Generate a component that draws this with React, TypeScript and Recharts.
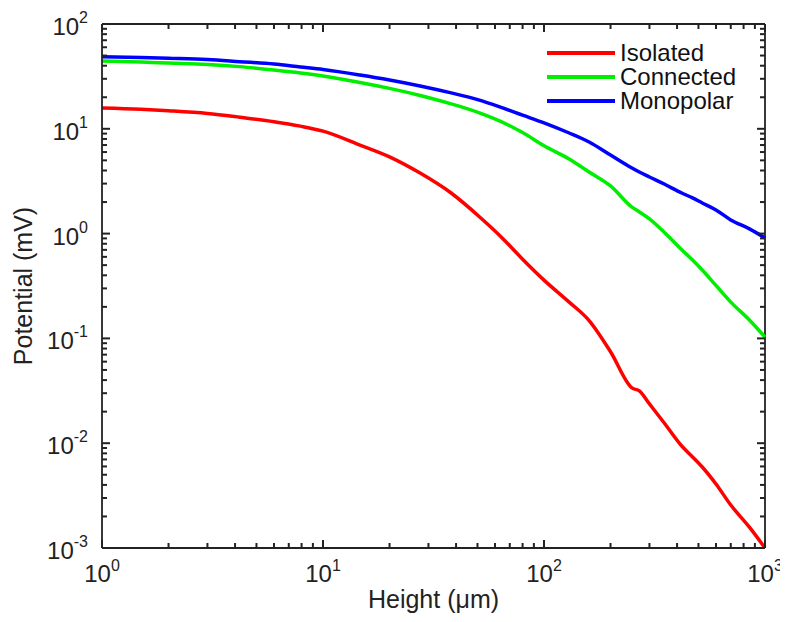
import React from 'react';
import { LineChart, Line, XAxis, YAxis, Legend, ReferenceLine } from 'recharts';

const heights = [1, 1.5, 2, 3, 4.2, 6, 7.9, 10, 14.7, 20, 27.5, 38, 51, 64, 80, 100, 130, 160, 200, 250, 270, 300, 350, 420, 470, 520, 600, 700, 850, 1000];
const isolated = [15.8, 15.35, 14.86, 14.0, 12.9, 11.7, 10.6, 9.5, 7.0, 5.4, 3.78, 2.44, 1.45, 0.93, 0.57, 0.36, 0.222, 0.148, 0.0746, 0.0337, 0.0315, 0.0237, 0.0156, 0.0094, 0.0074, 0.00593, 0.00408, 0.00257, 0.00158, 0.001];
const connected = [44.4, 43.4, 42.4, 41.1, 39.2, 36.4, 34.1, 31.9, 27.7, 24.3, 20.8, 17.3, 14.2, 11.7, 9.2, 6.9, 5.15, 3.87, 2.85, 1.79, 1.61, 1.38, 1.03, 0.70, 0.56, 0.45, 0.32, 0.222, 0.15, 0.103];
const monopolar = [48.8, 47.9, 47.1, 45.8, 43.7, 41.5, 38.9, 36.8, 32.6, 29.2, 25.6, 22.0, 18.8, 16.0, 13.5, 11.4, 9.12, 7.48, 5.62, 4.23, 3.87, 3.47, 2.97, 2.44, 2.19, 1.96, 1.68, 1.35, 1.11, 0.91];

const seriesNames = ['Isolated', 'Connected', 'Monopolar'];

const xTicks = [1, 2, 3, 4, 5, 6, 7, 8, 9, 10, 20, 30, 40, 50, 60, 70, 80, 90, 100, 200, 300, 400, 500, 600, 700, 800, 900, 1000];
const yTicks = [0.001, 0.002, 0.003, 0.004, 0.005, 0.006, 0.007, 0.008, 0.009, 0.01, 0.02, 0.03, 0.04, 0.05, 0.06, 0.07, 0.08, 0.09, 0.1, 0.2, 0.3, 0.4, 0.5, 0.6, 0.7, 0.8, 0.9, 1, 2, 3, 4, 5, 6, 7, 8, 9, 10, 20, 30, 40, 50, 60, 70, 80, 90, 100];

const data = heights.map((h, i) => ({
  h,
  isolated: isolated[i],
  connected: connected[i],
  monopolar: monopolar[i],
}));

const FONT = '"Liberation Sans", Arial, Helvetica, sans-serif';
const W = 780;
const H = 614;
const PLOT_LEFT = 94;
const PLOT_RIGHT = 757;
const PLOT_TOP = 16;
const PLOT_BOTTOM = 540;
const PLOT_W = PLOT_RIGHT - PLOT_LEFT;
const PLOT_H = PLOT_BOTTOM - PLOT_TOP;
const TICK_OFF = 8; // default tickSize 6 + tickMargin 2
const AXIS = '#222';

const isMajor = (v: number) => {
  const l = Math.log10(v);
  return Math.abs(l - Math.round(l)) < 1e-6;
};

const XTick = (props: any) => {
  const { x, y, payload } = props;
  const ay = y - TICK_OFF;
  const v = payload.value;
  const major = isMajor(v);
  const len = major ? 8 : 5;
  const exp = Math.round(Math.log10(v));
  return (
    <g>
      <line x1={x} y1={ay} x2={x} y2={ay - len} stroke={AXIS} strokeWidth={2} />
      <line x1={x} y1={ay - PLOT_H} x2={x} y2={ay - PLOT_H + len} stroke={AXIS} strokeWidth={2} />
      {major && (
        <text x={x} y={ay + 34} textAnchor="middle" fontSize={24} fontFamily={FONT} fill={AXIS}>
          10<tspan dy={-11} fontSize={16}>{String(exp)}</tspan>
        </text>
      )}
    </g>
  );
};

const YTick = (props: any) => {
  const { x, y, payload } = props;
  const ax = x + TICK_OFF;
  const v = payload.value;
  const major = isMajor(v);
  const len = major ? 8 : 5;
  const exp = Math.round(Math.log10(v));
  return (
    <g>
      <line x1={ax} y1={y} x2={ax + len} y2={y} stroke={AXIS} strokeWidth={2} />
      <line x1={ax + PLOT_W} y1={y} x2={ax + PLOT_W - len} y2={y} stroke={AXIS} strokeWidth={2} />
      {major && (
        <text x={ax - 14} y={y + 11} textAnchor="end" fontSize={24} fontFamily={FONT} fill={AXIS}>
          10<tspan dy={-12} fontSize={16}>{String(exp)}</tspan>
        </text>
      )}
    </g>
  );
};

const renderLegend = (props: any) => {
  const items = [...(props.payload || [])].sort(
    (a: any, b: any) => seriesNames.indexOf(a.value) - seriesNames.indexOf(b.value)
  );
  return (
    <div style={{ fontFamily: FONT, fontSize: 24, color: '#111' }}>
      {items.map((e: any) => (
        <div key={e.value} style={{ display: 'flex', alignItems: 'center', height: 24 }}>
          <span style={{ display: 'inline-block', width: 68, height: 4, background: e.color, marginRight: 5 }} />
          <span style={{ lineHeight: '22px', whiteSpace: 'nowrap' }}>{e.value}</span>
        </div>
      ))}
    </div>
  );
};

export default function App() {
  return (
    <div style={{ width: W, height: H, position: 'relative', fontFamily: FONT }}>
      <style>{`.recharts-surface { overflow: visible; }`}</style>
      <LineChart
        width={W}
        height={H}
        data={data}
        margin={{ top: PLOT_TOP, right: W - PLOT_RIGHT, left: 24, bottom: H - PLOT_BOTTOM - 40 }}
      >
        <XAxis
          dataKey="h"
          type="number"
          scale="log"
          domain={[1, 1000]}
          ticks={xTicks}
          interval={0}
          tickLine={{ stroke: 'none' }}
          height={40}
          axisLine={{ stroke: AXIS, strokeWidth: 1.8 }}
          tick={<XTick />}
        />
        <YAxis
          type="number"
          scale="log"
          domain={[0.001, 100]}
          ticks={yTicks}
          interval={0}
          tickLine={{ stroke: 'none' }}
          width={70}
          axisLine={{ stroke: AXIS, strokeWidth: 1.8 }}
          tick={<YTick />}
        />
        <ReferenceLine y={100} stroke={AXIS} strokeWidth={1.8} />
        <ReferenceLine x={1000} stroke={AXIS} strokeWidth={1.8} />
        <Legend
          layout="vertical"
          align="center"
          verticalAlign="middle"
          content={renderLegend}
          wrapperStyle={{ top: 33, left: 539, width: 'auto', height: 'auto' }}
        />
        <Line type="monotone" dataKey="isolated" name="Isolated" stroke="#ff0000" strokeWidth={3.5} dot={false} isAnimationActive={false} />
        <Line type="monotone" dataKey="connected" name="Connected" stroke="#00ee00" strokeWidth={3.5} dot={false} isAnimationActive={false} />
        <Line type="monotone" dataKey="monopolar" name="Monopolar" stroke="#0000ff" strokeWidth={3.5} dot={false} isAnimationActive={false} />
        <text x={(PLOT_LEFT + PLOT_RIGHT) / 2} y={600} textAnchor="middle" fontSize={25} fontFamily={FONT} fill={AXIS}>
          Height (μm)
        </text>
        <text x={24} y={(PLOT_TOP + PLOT_BOTTOM) / 2} textAnchor="middle" fontSize={25} fontFamily={FONT} fill={AXIS} transform={`rotate(-90, 24, ${(PLOT_TOP + PLOT_BOTTOM) / 2})`}>
          Potential (mV)
        </text>
      </LineChart>
    </div>
  );
}
